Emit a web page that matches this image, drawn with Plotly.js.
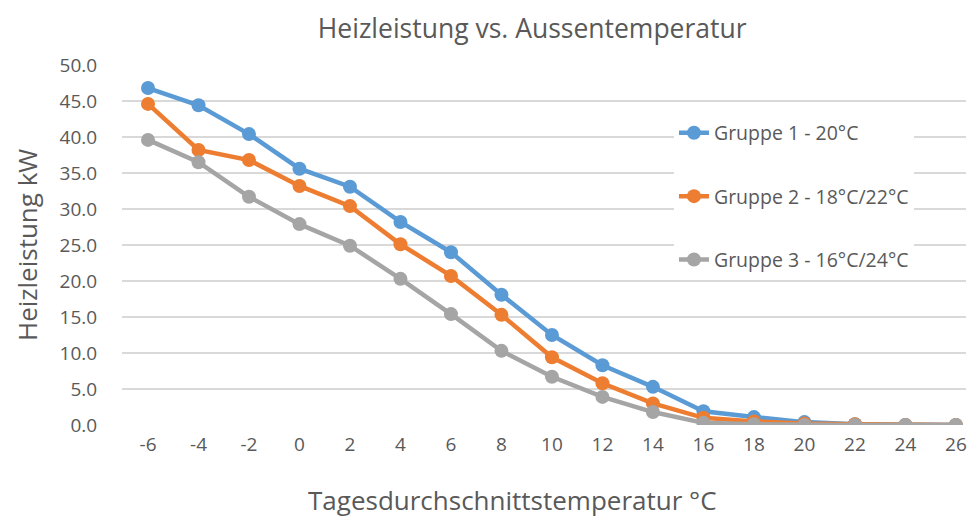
<!DOCTYPE html>
<html>
<head>
<meta charset="utf-8">
<script src="https://cdn.plot.ly/plotly-3.0.1.min.js"></script>
<style>
  html, body { margin: 0; padding: 0; background: #fff; }
  #chart { width: 967px; height: 517px; }
</style>
</head>
<body>
<div id="chart"></div>
<script>
// Tagesdurchschnittstemperatur in °C
const temps = [-6, -4, -2, 0, 2, 4, 6, 8, 10, 12, 14, 16, 18, 20, 22, 24, 26];

// Heizleistung in kW
const gruppe1 = [46.8, 44.4, 40.4, 35.6, 33.1, 28.2, 24.0, 18.1, 12.5, 8.3, 5.3, 1.9, 1.1, 0.4, 0.1, 0.0, 0.0];
const gruppe2 = [44.6, 38.2, 36.8, 33.2, 30.4, 25.1, 20.7, 15.3, 9.4, 5.8, 3.0, 1.0, 0.5, 0.2, 0.1, 0.0, 0.0];
const gruppe3 = [39.6, 36.5, 31.7, 27.9, 24.9, 20.3, 15.4, 10.3, 6.7, 3.9, 1.8, 0.3, 0.1, 0.0, 0.0, 0.0, 0.0];

const names = ['Gruppe 1 - 20°C', 'Gruppe 2 - 18°C/22°C', 'Gruppe 3 - 16°C/24°C'];
const colors = ['#5B9BD5', '#ED7D31', '#A5A5A5'];

const font = '"Open Sans", "Noto Sans", sans-serif';
const grey = '#595959';

const traces = [gruppe1, gruppe2, gruppe3].map((vals, i) => ({
    x: temps,
    y: vals,
    name: names[i],
    legendgroup: 'g' + i,
    type: 'scatter',
    mode: 'lines+markers',
    line: { color: colors[i], width: 4.5 },
    marker: { color: colors[i], size: 14 }
}));

const layout = {
    width: 967,
    height: 517,
    paper_bgcolor: '#fff',
    plot_bgcolor: '#fff',
    font: { family: font, color: grey },
    margin: { l: 122, r: 1, t: 65, b: 92 },
    title: {
        text: 'Heizleistung vs. Aussentemperatur',
        font: { family: font, size: 26.5, color: grey },
        xref: 'paper', x: 0.486, xanchor: 'center',
        yref: 'container', y: 0.945, yanchor: 'middle'
    },
    xaxis: {
        type: 'linear',
        range: [-7.03, 26.4],
        tickmode: 'array',
        tickvals: temps,
        ticktext: temps.map(String),   // Bindestrich statt Minuszeichen
        showgrid: false,
        zeroline: false,
        showline: false,
        ticks: 'outside', ticklen: 2, tickcolor: 'rgba(0,0,0,0)',
        tickfont: { family: font, size: 19, color: grey }
    },
    yaxis: {
        range: [0, 50],
        tickmode: 'linear', tick0: 0, dtick: 5,
        tickformat: '.1f',
        showgrid: true,
        gridcolor: '#D9D9D9',
        gridwidth: 1.5,
        zeroline: false,
        showline: false,
        ticks: 'outside', ticklen: 20, tickcolor: 'rgba(0,0,0,0)',
        tickfont: { family: font, size: 19, color: grey }
    },
    annotations: [
        {
            text: 'Tagesdurchschnittstemperatur °C',
            xref: 'paper', yref: 'paper',
            x: (512 - 122) / 844, y: -0.208,
            xanchor: 'center', yanchor: 'middle',
            showarrow: false,
            font: { family: font, size: 26, color: grey }
        },
        {
            text: 'Heizleistung kW',
            xref: 'paper', yref: 'paper',
            x: (27 - 122) / 844, y: 0.5,
            xanchor: 'center', yanchor: 'middle',
            textangle: -90,
            showarrow: false,
            font: { family: font, size: 26, color: grey }
        }
    ],
    showlegend: true,
    legend: {
        x: 0.654, y: 0.865,
        xanchor: 'left', yanchor: 'top',
        bgcolor: '#fff',
        traceorder: 'grouped',
        tracegroupgap: 35,
        font: { family: font, size: 19.5, color: grey }
    }
};

Plotly.newPlot('chart', traces, layout, { displayModeBar: false, staticPlot: true });
</script>
</body>
</html>
